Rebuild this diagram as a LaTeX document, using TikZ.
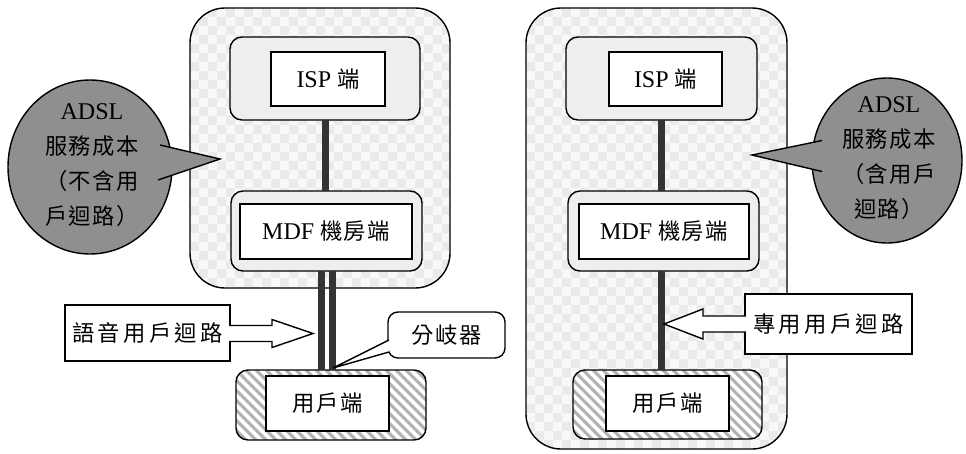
\documentclass[tikz,border=0pt]{standalone}
\usepackage{fontspec}
\setmainfont{Liberation Serif}
\newfontfamily\cjk[Scale=0.93,LetterSpace=6]{Noto Sans CJK TC}
\newfontfamily\cjkw[Scale=0.93,LetterSpace=15]{Noto Sans CJK TC}
\newcommand\zh[1]{{\cjk #1}}
\newcommand\zhw[1]{{\cjkw #1}}
\usetikzlibrary{shapes.geometric}
\definecolor{checklight}{HTML}{F8F8F8}
\definecolor{checkdark}{HTML}{EAEAEA}
\definecolor{boxgray}{HTML}{EDEEEE}
\definecolor{linkgray}{HTML}{333333}
\definecolor{hatchgray}{HTML}{B2B2B2}
\definecolor{bubblegray}{HTML}{8F8F8F}
\newcommand\checkerfill{\foreach \ci in {0,...,29}{\foreach \cj in {0,...,49}{\ifodd\numexpr\ci+\cj\relax\else\fill[checkdark,sharp corners] ([shift={(\ci*9,\cj*9)}]path picture bounding box.north west) rectangle ++(9,9);\fi}}}
\newcommand\hatchfill{\foreach \hk in {-90,-80,...,200}{\draw[hatchgray,line width=3pt,sharp corners] ([shift={(\hk,0)}]path picture bounding box.north west) -- ++(90,90);}}
\tikzset{
  panel/.style={draw, line width=1.4pt, rounded corners=35pt, fill=checklight, inner sep=0pt, outer sep=0pt, path picture={\checkerfill}},
  outerbox/.style={draw, line width=1.4pt, rounded corners=12pt, fill=boxgray, inner sep=0pt, outer sep=0pt},
  innerbox/.style={draw, line width=1.4pt, fill=white, inner sep=0pt, outer sep=0pt},
  userbox/.style={draw, line width=1.4pt, rounded corners=12pt, fill=white, inner sep=0pt, outer sep=0pt, path picture={\hatchfill}},
  link/.style={draw=linkgray, line width=7pt},
  callbox/.style={draw, line width=1.4pt, fill=white, inner sep=0pt, outer sep=0pt},
  callline/.style={line width=1.4pt, line join=miter},
  bubble/.style={ellipse, draw, line width=1.4pt, fill=bubblegray, inner sep=0pt, outer sep=0pt},
  bubtext/.style={align=center, inner sep=0pt, font=\fontsize{24}{35}\selectfont},
}
\begin{document}
\begin{tikzpicture}[x=1pt, y=-1pt, font=\fontsize{24}{30}\selectfont]
\useasboundingbox (0,0) rectangle (966,453);
\fill[white] (0,0) rectangle (966,453);

% ---------- left panel ----------
\node[panel, minimum width=260, minimum height=280] (Lpanel) at (320,148) {};
\node[outerbox, minimum width=190, minimum height=83] (Lisp) at (325,78.5) {};
\node[innerbox, minimum width=114, minimum height=54] (Lispi) at (328,79) {ISP \zh{端}};
\node[outerbox, minimum width=191, minimum height=80] (Lmdf) at (326.5,231) {};
\node[innerbox, minimum width=172, minimum height=55] (Lmdfi) at (326,231.5) {MDF \zh{機房端}};
\node[userbox, minimum width=190, minimum height=70] (Lusr) at (331,405) {};
\node[innerbox, minimum width=123, minimum height=55] (Lusri) at (327.5,403.5) {\zh{用戶端}};
\draw[link] (Lisp.south) -- (Lisp.south |- Lmdf.north);
\draw[link] ([xshift=-5.5pt]Lmdf.south) -- ([xshift=-5.5pt]Lmdf.south |- Lusr.north);
\draw[link] ([xshift=5.5pt]Lmdf.south) -- ([xshift=5.5pt]Lmdf.south |- Lusr.north);

% voice loop callout
\node[callbox, minimum width=165, minimum height=56] (voice) at (147.5,333) {\zhw{語音用戶迴路}};
\draw[callline, fill=white] ([shift={(-1,-7.5)}]voice.east) -- ++(43,0) -- ++(0,-6) -- ++(41,14) -- ++(-41,14) -- ++(0,-6) -- ++(-43,0);

% splitter callout
\node[callbox, rounded corners=10pt, minimum width=117, minimum height=46] (split) at (446.5,335) {\zh{分岐器}};
\coordinate (sptip) at (333,368);
\draw[callline, fill=white] ([shift={(1,5)}]split.west) -- (sptip) -- ([shift={(1,17)}]split.west);

% left bubble
\node[bubble, minimum width=164, minimum height=174] (Lbub) at (90,167) {};
\coordinate (Lbtip) at (220,159);
\draw[callline, fill=bubblegray] ([shift={(70,-22)}]Lbub.center) -- (Lbtip) -- ([shift={(68,13)}]Lbub.center);
\node[bubtext] (Lbubt) at (92,165) {ADSL\\\zh{服務成本}\\\zh{（不含用}\\\zh{戶迴路）}};

% ---------- right panel ----------
\node[panel, minimum width=261, minimum height=441] (Rpanel) at (656.5,228.5) {};
\node[outerbox, minimum width=191, minimum height=83] (Risp) at (661.5,78.5) {};
\node[innerbox, minimum width=113, minimum height=54] (Rispi) at (665.5,79) {ISP \zh{端}};
\node[outerbox, minimum width=191, minimum height=80] (Rmdf) at (663.5,231) {};
\node[innerbox, minimum width=170, minimum height=55] (Rmdfi) at (664,231.5) {MDF \zh{機房端}};
\node[userbox, minimum width=189, minimum height=69] (Rusr) at (667.5,404.5) {};
\node[innerbox, minimum width=123, minimum height=55] (Rusri) at (667.5,403.5) {\zh{用戶端}};
\draw[link] (Risp.south) -- (Risp.south |- Rmdf.north);
\draw[link] (Risp.south |- Rmdf.south) -- (Risp.south |- Rusr.north);

% dedicated loop callout
\node[callbox, minimum width=167, minimum height=60] (dedi) at (828.5,324) {\zhw{專用用戶迴路}};
\draw[callline, fill=white] ([shift={(1,-8)}]dedi.west) -- ++(-43,0) -- ++(0,-7) -- ++(-39,15) -- ++(39,15) -- ++(0,-7) -- ++(43,0);

% right bubble
\node[bubble, minimum width=150, minimum height=165] (Rbub) at (887,160.5) {};
\coordinate (Rbtip) at (752,155);
\draw[callline, fill=bubblegray] ([shift={(-65,-20)}]Rbub.center) -- (Rbtip) -- ([shift={(-65,11)}]Rbub.center);
\node[bubtext] (Rbubt) at (889,158) {ADSL\\\zh{服務成本}\\\zh{（含用戶}\\\zh{迴路）}};
\end{tikzpicture}
\end{document}
